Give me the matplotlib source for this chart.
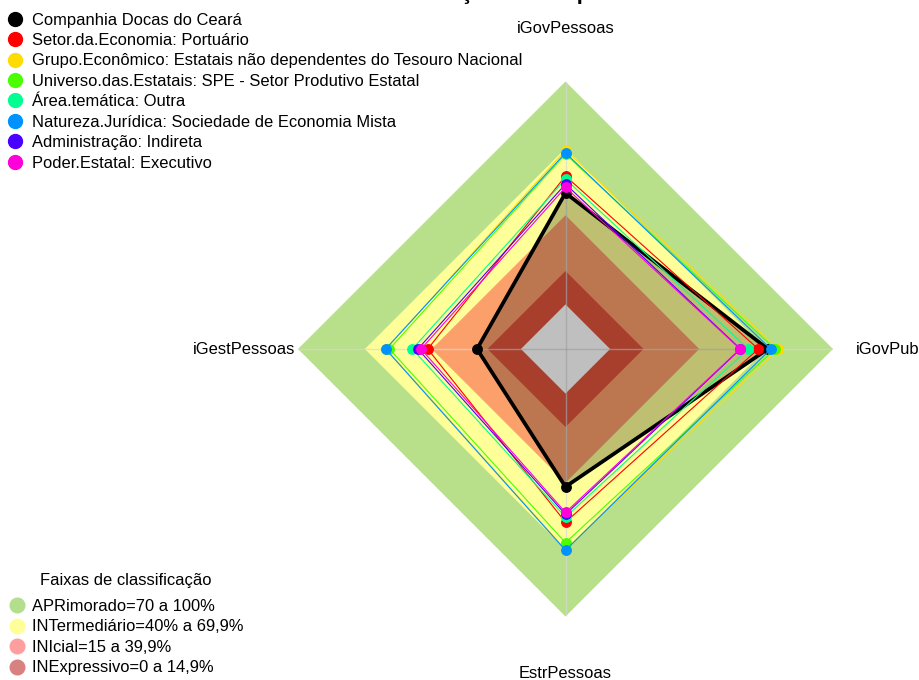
import matplotlib
matplotlib.use("Agg")
import matplotlib.pyplot as plt
import numpy as np
from matplotlib.lines import Line2D

plt.rcParams['font.family'] = ['Liberation Sans', 'DejaVu Sans']

# ---------------- data ----------------
axis_labels = ["iGovPessoas", "iGovPub", "EstrPessoas", "iGestPessoas"]

series_names = [
    "Companhia Docas do Ceará",
    "Setor.da.Economia: Portuário",
    "Grupo.Econômico: Estatais não dependentes do Tesouro Nacional",
    "Universo.das.Estatais: SPE - Setor Produtivo Estatal",
    "Área.temática: Outra",
    "Natureza.Jurídica: Sociedade de Economia Mista",
    "Administração: Indireta",
    "Poder.Estatal: Executivo",
]
series_colors = ["#000000", "#FF0000", "#FFDB00", "#49FF00",
                 "#00FF92", "#0092FF", "#4900FF", "#FF00DB"]

v_docas    = [50.0, 70.8, 41.8, 19.7]
v_setor    = [57.6, 66.5, 57.7, 41.8]
v_grupo    = [69.2, 75.5, 70.0, 60.5]
v_universo = [67.4, 74.0, 66.9, 59.0]
v_area     = [56.2, 62.0, 55.4, 48.7]
v_natureza = [68.0, 72.1, 70.3, 60.7]
v_admin    = [54.0, 58.5, 54.2, 46.2]
v_poder    = [52.5, 58.3, 53.3, 44.8]
series_values = [v_docas, v_setor, v_grupo, v_universo,
                 v_area, v_natureza, v_admin, v_poder]

band_title = "Faixas de classificação"
band_names = ["APRimorado=70 a 100%", "INTermediário=40% a 69,9%",
              "INIcial=15 a 39,9%", "INExpressivo=0 a 14,9%"]
band_upper = [100, 70, 40, 15]
band_fill = ["#B8E08A", "#FFFF99", "#FCA06B", "#E0553C"]
band_legend = ["#B3DE8C", "#FFFF99", "#FF9E9E", "#D98080"]

r_min, r_max = -20, 100

# ---------------- figure ----------------
W, H = 920, 680
fig = plt.figure(figsize=(W / 100, H / 100), dpi=100)
cx, cy, R = 565.5, 349, 267.5
ax = fig.add_axes([(cx - R) / W, (H - cy - R) / H, 2 * R / W, 2 * R / H],
                  projection='polar')
ax.set_theta_zero_location('N')
ax.set_theta_direction(-1)
ax.set_ylim(r_min, r_max)
ax.set_axis_off()

theta = np.deg2rad([0, 90, 180, 270])
closed_t = np.append(theta, theta[0])

# classification bands
for up, col in zip(band_upper, band_fill):
    ax.fill(closed_t, [up] * 5, color=col, lw=0, zorder=1)
ax.fill(closed_t, [0] * 5, color='white', lw=0, zorder=1)

# spokes
for t in theta:
    ax.plot([t, t], [r_min, r_max], color='#D8D8D8', lw=1, alpha=0.7, zorder=2)

# series
for i, (vals, col) in enumerate(zip(series_values, series_colors)):
    v = np.append(vals, vals[0])
    z = 4 + i
    if i == 0:
        ax.fill(closed_t, v, color='black', alpha=0.25, lw=0, zorder=3)
        ax.plot(closed_t, v, color='black', lw=2.7, zorder=z)
    else:
        ax.plot(closed_t, v, color=col, lw=0.8, zorder=z)
    ax.plot(theta, vals, ls='', marker='o', ms=6.8, color=col, zorder=z)

# axis labels
fs = 11.85
ax.text(theta[0], 123.7, axis_labels[0], ha='center', va='center', fontsize=fs, clip_on=False)
ax.text(theta[1], 110.3, axis_labels[1], ha='left', va='center', fontsize=fs, clip_on=False)
ax.text(theta[2], 125.5, axis_labels[2], ha='center', va='center', fontsize=fs, clip_on=False)
ax.text(theta[3], 101.4, axis_labels[3], ha='right', va='center', fontsize=fs, clip_on=False)

# title (mostly outside the canvas, as in the reference)
fig.text(396 / W, 1 + 0.5 / H, "Avaliação de Grupos", ha='left', va='baseline',
         fontsize=16, fontweight='bold')

# legends
h1 = [Line2D([], [], ls='', marker='o', ms=10, color=c) for c in series_colors]
leg1 = fig.legend(h1, series_names, loc='upper left',
                  bbox_to_anchor=(6.7 / W, 1 - 12.5 / H), frameon=False, fontsize=fs,
                  handlelength=1.0, handletextpad=0.55, labelspacing=0.33,
                  borderpad=0, borderaxespad=0)

fig.text(126 / W, 1 - 580 / H, band_title, ha='center', va='center', fontsize=fs)
h2 = [Line2D([], [], ls='', marker='o', ms=10.5, color=c) for c in band_legend]
leg2 = fig.legend(h2, band_names, loc='upper left',
                  bbox_to_anchor=(9 / W, 1 - 599 / H),
                  frameon=False, fontsize=fs, handlelength=1.0, handletextpad=0.4,
                  labelspacing=0.33, borderpad=0, borderaxespad=0)

fig.savefig("out.png", dpi=100)
